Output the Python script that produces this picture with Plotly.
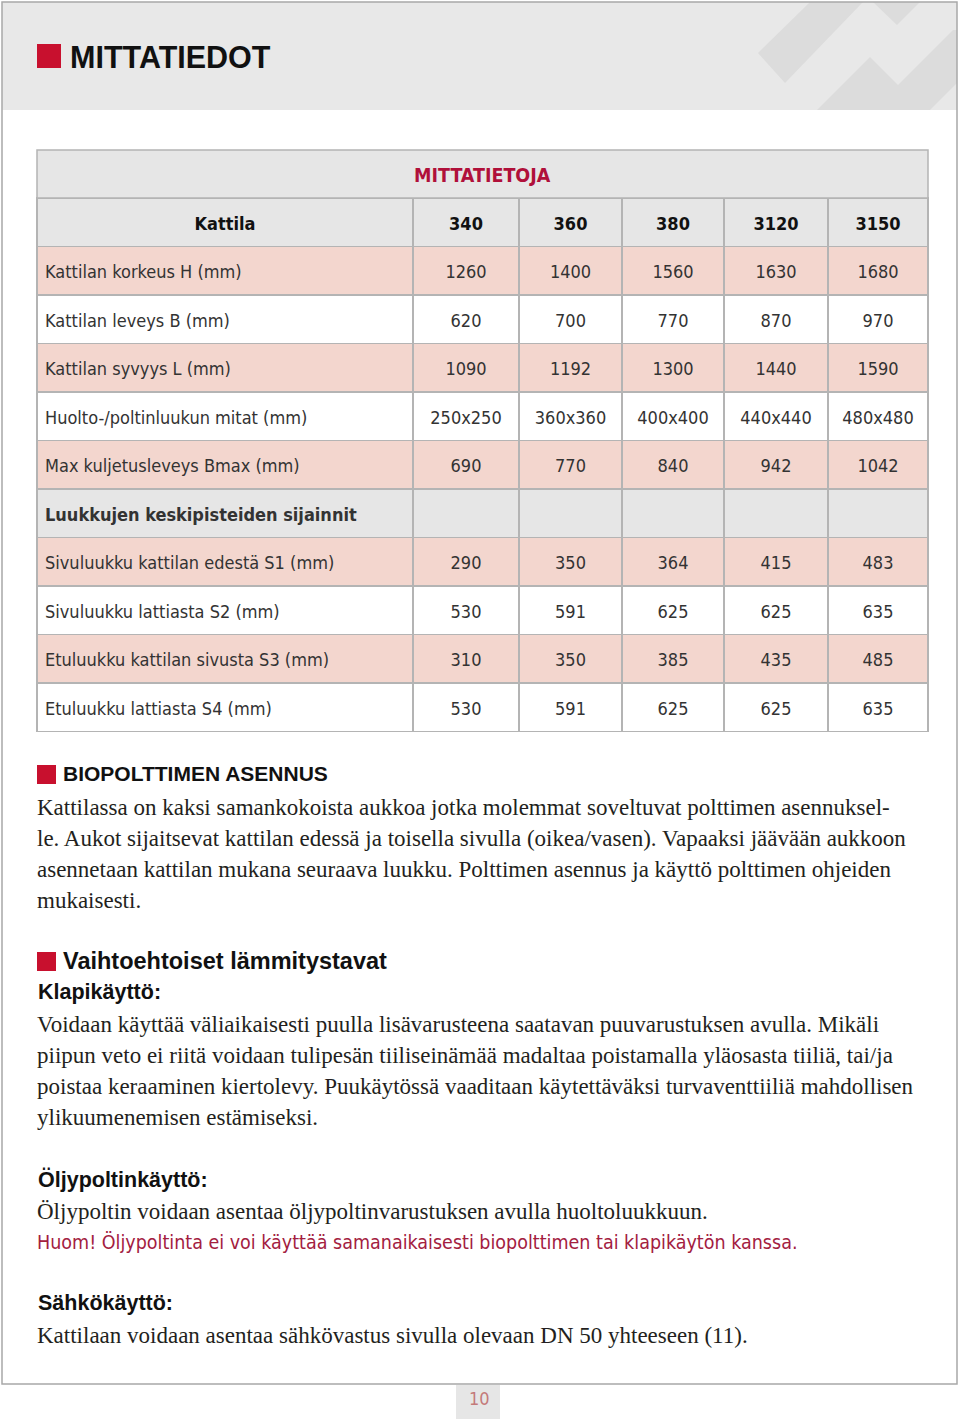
import plotly.graph_objects as go

W, H = 960, 1419

# ---------------- data ----------------
models = ["340", "360", "380", "3120", "3150"]
row_labels = [
    "Kattilan korkeus H (mm)",
    "Kattilan leveys B (mm)",
    "Kattilan syvyys L (mm)",
    "Huolto-/poltinluukun mitat (mm)",
    "Max kuljetusleveys Bmax (mm)",
    "Luukkujen keskipisteiden sijainnit",
    "Sivuluukku kattilan edestä S1 (mm)",
    "Sivuluukku lattiasta S2 (mm)",
    "Etuluukku kattilan sivusta S3 (mm)",
    "Etuluukku lattiasta S4 (mm)",
]
korkeus_H = [1260, 1400, 1560, 1630, 1680]
leveys_B = [620, 700, 770, 870, 970]
syvyys_L = [1090, 1192, 1300, 1440, 1590]
huolto_luukku = ["250x250", "360x360", "400x400", "440x440", "480x480"]
bmax = [690, 770, 840, 942, 1042]
sijainnit = ["", "", "", "", ""]
S1 = [290, 350, 364, 415, 483]
S2 = [530, 591, 625, 625, 635]
S3 = [310, 350, 385, 435, 485]
S4 = [530, 591, 625, 625, 635]
table_rows = [korkeus_H, leveys_B, syvyys_L, huolto_luukku, bmax,
              sijainnit, S1, S2, S3, S4]
section_row = 5  # index of the grey sub-heading row

page_title = "MITTATIEDOT"
table_title = "MITTATIETOJA"
header_first = "Kattila"

bio_heading = "BIOPOLTTIMEN ASENNUS"
bio_lines = [
    "Kattilassa on kaksi samankokoista aukkoa jotka molemmat soveltuvat polttimen asennuksel-",
    "le. Aukot sijaitsevat kattilan edessä ja toisella sivulla (oikea/vasen). Vapaaksi jäävään aukkoon",
    "asennetaan kattilan mukana seuraava luukku. Polttimen asennus ja käyttö polttimen ohjeiden",
    "mukaisesti.",
]
alt_heading = "Vaihtoehtoiset lämmitystavat"
klapi_heading = "Klapikäyttö:"
klapi_lines = [
    "Voidaan käyttää väliaikaisesti puulla lisävarusteena saatavan puuvarustuksen avulla. Mikäli",
    "piipun veto ei riitä voidaan tulipesän tiiliseinämää madaltaa poistamalla yläosasta tiiliä, tai/ja",
    "poistaa keraaminen kiertolevy. Puukäytössä vaaditaan käytettäväksi turvaventtiiliä mahdollisen",
    "ylikuumenemisen estämiseksi.",
]
oljy_heading = "Öljypoltinkäyttö:"
oljy_line = "Öljypoltin voidaan asentaa öljypoltinvarustuksen avulla huoltoluukkuun."
oljy_note = "Huom! Öljypoltinta ei voi käyttää samanaikaisesti biopolttimen tai klapikäytön kanssa."
sahko_heading = "Sähkökäyttö:"
sahko_line = "Kattilaan voidaan asentaa sähkövastus sivulla olevaan DN 50 yhteeseen (11)."
page_number = "10"

# ---------------- styles ----------------
RED = "#c8102e"
NOTE_RED = "#a3203f"
GREY_BG = "#e8e8e8"
HEAD_GREY = "#e6e6e6"
PINK = "#f3d6ce"
LINE = "#b4b4b4"
COND = "Liberation Sans Narrow, DejaVu Sans Condensed, Arial Narrow, sans-serif"
SANS = "Liberation Sans, Arial, sans-serif"
SERIF = "Liberation Serif, Times New Roman, serif"
TXT = "#231f20"
CLEAR = "rgba(0,0,0,0)"

def px(x):
    return x / W

def py(y):
    return 1 - y / H

# table geometry (pixels)
T_LEFT, T_RIGHT = 37, 928
col_widths = [376, 106, 103, 102, 104, 100]
ROW_H = 48.5
TITLE_TOP, HEAD_TOP = 150, 198
TEXT_DY = 6.5  # vertical centring of text inside the table rows

# ---------------- table ----------------
n_rows = len(row_labels)
n_cols = len(models) + 1
label_col = [f"<b>{lab}</b>" if i == section_row else f"<span>{lab}</span>"
             for i, lab in enumerate(row_labels)]
value_cols = [[f"<span>{table_rows[r][c]}</span>" for r in range(n_rows)] for c in range(len(models))]

row_fill = []
for i in range(n_rows):
    if i == section_row:
        row_fill.append(HEAD_GREY)
    elif i % 2 == 0:
        row_fill.append(PINK)
    else:
        row_fill.append("white")

table_bottom = HEAD_TOP + ROW_H * (n_rows + 1) + 30

# cell backgrounds and grid
grid_table = go.Table(
    domain=dict(x=[px(T_LEFT), px(T_RIGHT)], y=[py(table_bottom), py(HEAD_TOP)]),
    columnwidth=col_widths,
    header=dict(values=[""] * n_cols, fill_color=HEAD_GREY,
                line=dict(color=LINE, width=1.5), height=ROW_H),
    cells=dict(values=[[""] * n_rows] * n_cols, fill_color=[row_fill] * n_cols,
               line=dict(color=LINE, width=1.5), height=ROW_H),
    hoverinfo="skip",
)

# cell texts
text_table = go.Table(
    domain=dict(x=[px(T_LEFT), px(T_RIGHT)], y=[py(table_bottom + TEXT_DY), py(HEAD_TOP + TEXT_DY)]),
    columnwidth=col_widths,
    header=dict(
        values=[f"<b>{header_first}</b>"] + [f"<b>{m}</b>" for m in models],
        fill_color=CLEAR,
        line=dict(color=CLEAR, width=0),
        align="center",
        font=dict(family=COND, size=18, color="#111111"),
        height=ROW_H,
    ),
    cells=dict(
        values=[label_col] + value_cols,
        fill_color=CLEAR,
        line=dict(color=CLEAR, width=0),
        align=["left"] + ["center"] * len(models),
        font=dict(family=COND, size=18, color="#333333"),
        height=ROW_H,
    ),
)

fig = go.Figure([grid_table, text_table])

shapes = []
annotations = []

# page frame and header band
shapes.append(dict(type="rect", xref="paper", yref="paper", x0=px(2), x1=px(957), y0=py(110), y1=py(2),
                   fillcolor=GREY_BG, line=dict(width=0), layer="below"))
deco = [
    [(758, 53), (810, 2), (863, 2), (785, 83)],
    [(873, 2), (920, 2), (897, 25)],
    [(817, 110), (870, 57), (923, 110)],
    [(873, 110), (953, 30), (957, 30), (957, 83), (930, 110)],
]
for poly in deco:
    path = "M " + " L ".join(f"{px(x)},{py(y)}" for x, y in poly) + " Z"
    shapes.append(dict(type="path", xref="paper", yref="paper", path=path,
                       fillcolor="#dcdcdc", line=dict(width=0), layer="below"))
shapes.append(dict(type="rect", xref="paper", yref="paper", x0=px(2), x1=px(957), y0=py(1384), y1=py(2),
                   fillcolor=CLEAR, line=dict(color="#a8a8a8", width=1.5)))

# title square + title
shapes.append(dict(type="rect", xref="paper", yref="paper", x0=px(37), x1=px(61), y0=py(68), y1=py(44),
                   fillcolor=RED, line=dict(width=0)))
annotations.append(dict(x=px(68), y=py(57), xref="paper", yref="paper", text=f"<b>{page_title}</b>",
                        showarrow=False, xanchor="left", yanchor="middle",
                        font=dict(family=SANS, size=30.5, color="#111111")))

# table title row
shapes.append(dict(type="rect", xref="paper", yref="paper", x0=px(T_LEFT), x1=px(T_RIGHT),
                   y0=py(HEAD_TOP), y1=py(TITLE_TOP), fillcolor=HEAD_GREY, line=dict(color=LINE, width=1.5)))
annotations.append(dict(x=px((T_LEFT + T_RIGHT) / 2), y=py(175), xref="paper", yref="paper",
                        text=f"<b>{table_title}</b>", showarrow=False, xanchor="center", yanchor="middle",
                        font=dict(family=COND, size=19.5, color="#b0103a")))

def heading(y, text, square=True, size=21.5):
    x = 36
    if square:
        shapes.append(dict(type="rect", xref="paper", yref="paper", x0=px(37), x1=px(56),
                           y0=py(y + 10), y1=py(y - 9), fillcolor=RED, line=dict(width=0)))
        x = 61
    annotations.append(dict(x=px(x), y=py(y), xref="paper", yref="paper", text=f"<b>{text}</b>",
                            showarrow=False, xanchor="left", yanchor="middle",
                            font=dict(family=SANS, size=size, color="#111111")))

def body(y, text, color=TXT, family=SERIF, size=23):
    annotations.append(dict(x=px(35), y=py(y), xref="paper", yref="paper", text=text,
                            showarrow=False, xanchor="left", yanchor="middle",
                            font=dict(family=family, size=size, color=color)))

heading(774, bio_heading, size=21)
for i, line in enumerate(bio_lines):
    body(807 + 31 * i, line)

heading(961, alt_heading, size=23.5)
heading(992, klapi_heading, square=False)
for i, line in enumerate(klapi_lines):
    body(1024 + 31 * i, line)

heading(1179, oljy_heading, square=False)
body(1211, oljy_line)
body(1242, oljy_note, color=NOTE_RED, family=COND, size=19.5)

heading(1303, sahko_heading, square=False)
body(1335, sahko_line)

# page number tab
shapes.append(dict(type="rect", xref="paper", yref="paper", x0=px(456), x1=px(500), y0=py(1419), y1=py(1385),
                   fillcolor="#e6e6e6", line=dict(width=0)))
annotations.append(dict(x=px(479), y=py(1398), xref="paper", yref="paper", text=page_number,
                        showarrow=False, xanchor="center", yanchor="middle",
                        font=dict(family=COND, size=18, color="#c47a7a")))

fig.update_layout(
    width=W, height=H,
    margin=dict(l=0, r=0, t=0, b=0),
    paper_bgcolor="white",
    plot_bgcolor="white",
    shapes=shapes,
    annotations=annotations,
    showlegend=False,
)

fig.write_html("out.html", config={"displayModeBar": False},
               post_script="document.body.style.margin='0px';")
